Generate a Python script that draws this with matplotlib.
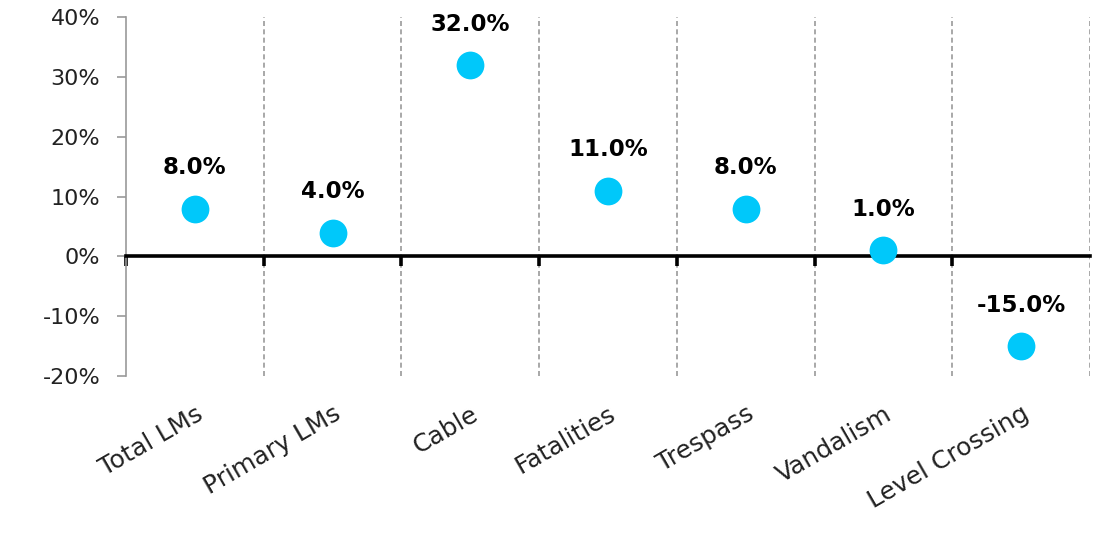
import matplotlib
matplotlib.use("Agg")
import matplotlib.pyplot as plt
from matplotlib.ticker import FuncFormatter, MultipleLocator
import matplotlib.transforms as mtransforms

plt.rcParams['font.family'] = ['DejaVu Sans']

# data
categories = ["Total LMs", "Primary LMs", "Cable", "Fatalities", "Trespass",
              "Vandalism", "Level Crossing"]
changes = [8.0, 4.0, 32.0, 11.0, 8.0, 1.0, -15.0]

fig = plt.figure(figsize=(11.1, 5.35), dpi=100)
ax = fig.add_axes([0.1135, 0.297, 0.8685, 0.671])

x = list(range(len(categories)))
ax.plot(x, changes, linestyle='none', marker='o', markersize=20,
        color='#00C8FA', markeredgewidth=0, zorder=4)

for xi, v in zip(x, changes):
    ax.annotate(f"{v:.1f}%", (xi, v), xytext=(0, 29.5), textcoords='offset points',
                ha='center', va='center', fontsize=16.5, fontweight='bold',
                color='black')

ax.set_xlim(-0.5, len(categories) - 0.5)
ax.set_ylim(-20, 40)

# dashed separators between categories
for b in range(1, len(categories) + 1):
    ax.axvline(b - 0.5, color='#999999', lw=1.2, ls=(0, (3, 2)), zorder=1)

# zero line as bottom spine with black ticks at category boundaries
for s in ['top', 'right']:
    ax.spines[s].set_visible(False)
ax.spines['bottom'].set_position(('data', 0))
ax.spines['bottom'].set_color('black')
ax.spines['bottom'].set_linewidth(2.6)
ax.spines['bottom'].set_zorder(3)
ax.spines['left'].set_color('#999999')
ax.spines['left'].set_linewidth(1.2)

ax.set_xticks([b - 0.5 for b in range(len(categories))])
ax.tick_params(axis='x', length=7, width=2.6, color='black', labelbottom=False,
               direction='out')

ax.yaxis.set_major_locator(MultipleLocator(10))
ax.yaxis.set_major_formatter(FuncFormatter(lambda v, p: f"{v:.0f}%"))
ax.tick_params(axis='y', length=6.5, width=1.2, color='#999999', labelsize=16,
               pad=12, labelcolor='#222222')

trans = mtransforms.blended_transform_factory(ax.transData, ax.transAxes)
for xi, name in zip(x, categories):
    ax.text(xi + 0.0, -0.072, name, transform=trans, rotation=30,
            rotation_mode='anchor', ha='right', va='top', fontsize=18,
            color='#222222')

fig.savefig("out.png", dpi=100)
